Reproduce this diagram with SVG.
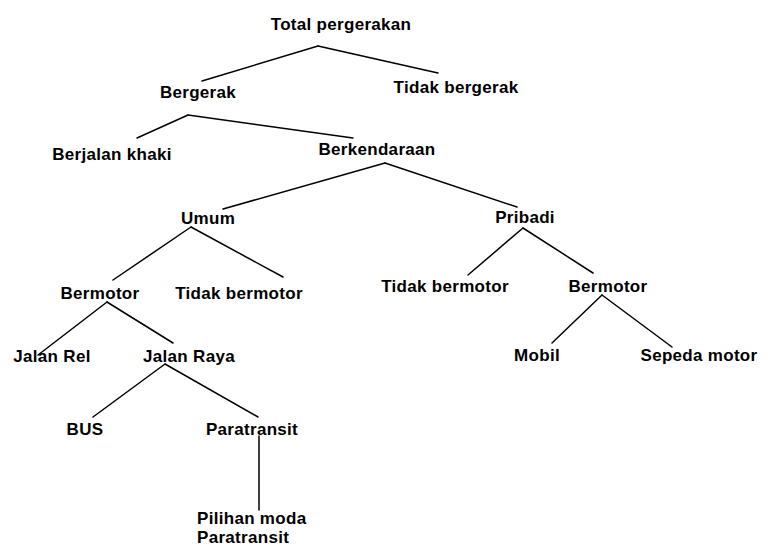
<svg xmlns="http://www.w3.org/2000/svg" width="768" height="546" viewBox="0 0 768 546">
<style>
text{font-family:"Liberation Sans",Arial,sans-serif;font-size:17px;font-weight:bold;fill:#000;text-anchor:middle;letter-spacing:0.3px}
.l{text-anchor:start}
#connectors line{stroke:#000;stroke-width:1.5;stroke-linecap:round}
</style>
<rect width="768" height="546" fill="#fff"/>
<g id="connectors">
<line x1="318" y1="46" x2="202" y2="81"/>
<line x1="318" y1="46" x2="438" y2="73"/>
<line x1="188" y1="115" x2="137" y2="138"/>
<line x1="188" y1="115" x2="353" y2="138"/>
<line x1="385" y1="163" x2="223" y2="209"/>
<line x1="385" y1="163" x2="517" y2="207"/>
<line x1="191" y1="227" x2="113" y2="280"/>
<line x1="191" y1="227" x2="283" y2="277"/>
<line x1="107" y1="302" x2="38" y2="355"/>
<line x1="107" y1="302" x2="173" y2="343"/>
<line x1="165" y1="364" x2="93" y2="417"/>
<line x1="165" y1="364" x2="258" y2="417"/>
<line x1="259" y1="436" x2="259" y2="510"/>
<line x1="523" y1="228" x2="468" y2="275"/>
<line x1="523" y1="228" x2="593" y2="273"/>
<line x1="602" y1="295" x2="552" y2="343"/>
<line x1="602" y1="295" x2="672" y2="347"/>
</g>
<g id="n-total"><text x="341" y="30">Total pergerakan</text></g>
<g id="n-bergerak"><text x="198" y="98">Bergerak</text></g>
<g id="n-tidak-bergerak"><text x="456" y="93">Tidak bergerak</text></g>
<g id="n-berjalan"><text x="112" y="160">Berjalan khaki</text></g>
<g id="n-berkendaraan"><text x="377" y="155">Berkendaraan</text></g>
<g id="n-umum"><text x="208" y="224">Umum</text></g>
<g id="n-pribadi"><text x="525" y="223">Pribadi</text></g>
<g id="n-umum-bermotor"><text x="100" y="299">Bermotor</text></g>
<g id="n-umum-tidak-bermotor"><text x="239" y="299">Tidak bermotor</text></g>
<g id="n-pribadi-tidak-bermotor"><text x="445" y="292">Tidak bermotor</text></g>
<g id="n-pribadi-bermotor"><text x="608" y="292">Bermotor</text></g>
<g id="n-jalan-rel"><text x="52" y="362">Jalan Rel</text></g>
<g id="n-jalan-raya"><text x="189" y="362">Jalan Raya</text></g>
<g id="n-mobil"><text x="537" y="361">Mobil</text></g>
<g id="n-sepeda-motor"><text x="699" y="361">Sepeda motor</text></g>
<g id="n-bus"><text x="85" y="435">BUS</text></g>
<g id="n-paratransit"><text x="252" y="435">Paratransit</text></g>
<g id="n-pilihan"><text class="l" x="197" y="524">Pilihan moda</text><text class="l" x="197" y="543">Paratransit</text></g>
</svg>
